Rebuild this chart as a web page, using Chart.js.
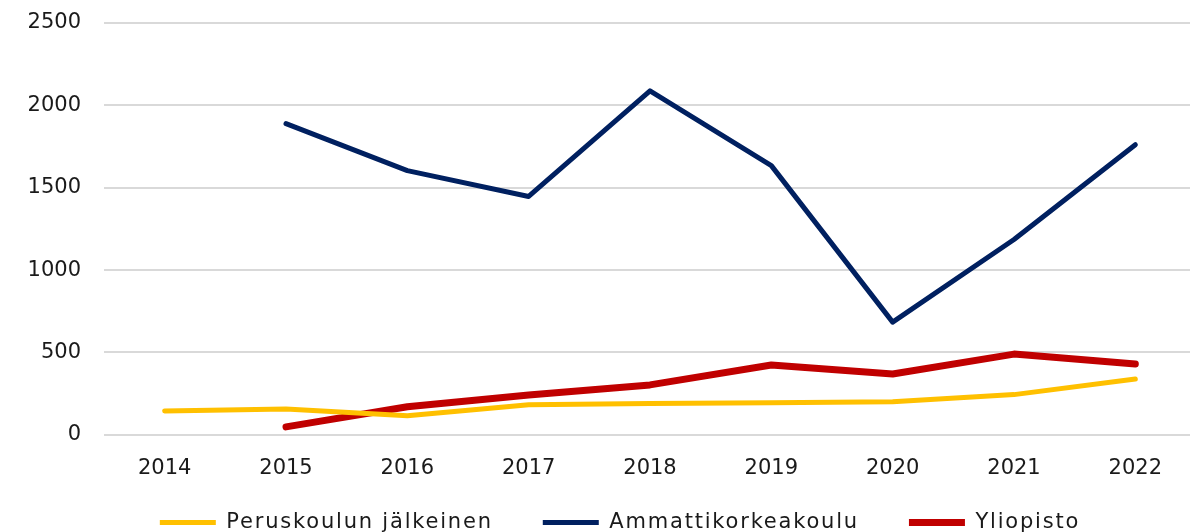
<!DOCTYPE html>
<html>
<head>
<meta charset="utf-8">
<script src="https://cdn.jsdelivr.net/npm/chart.js@4"></script>
<style>
html,body{margin:0;padding:0;background:#fff;overflow:hidden;width:1190px;height:532px;}
#wrap{position:absolute;left:0;top:0;width:1196px;height:583px;}
</style>
</head>
<body>
<div id="wrap"><canvas id="c"></canvas></div>
<script>
const years = ['2014','2015','2016','2017','2018','2019','2020','2021','2022'];
const peruskoulu = [145, 157, 115, 182, 190, 195, 201, 244, 339];
const amk = [null, 1889, 1604, 1447, 2088, 1634, 684, 1186, 1761];
const yliopisto = [null, 48, 170, 242, 303, 424, 369, 490, 430];
const yTicks = [0, 500, 1000, 1500, 2000, 2500];

const FONT = "'DejaVu Sans', sans-serif";
const LEGEND_SHIFT_Y = 40;
const LEGEND_SHIFT_X = 22;
const LEGEND_SPACING = '1.8px';
const legendShift = {
  id: 'legendShift',
  afterInit(chart) {
    const lg = chart.legend;
    if (!lg) return;
    const origDraw = lg.draw.bind(lg);
    const origFit = lg.fit.bind(lg);
    lg.fit = function() {
      const ctx = chart.ctx;
      const prev = ctx.letterSpacing;
      ctx.letterSpacing = LEGEND_SPACING;
      origFit();
      ctx.letterSpacing = prev || '0px';
    };
    lg.draw = function() {
      const ctx = chart.ctx;
      ctx.save();
      ctx.letterSpacing = LEGEND_SPACING;
      ctx.translate(LEGEND_SHIFT_X, -LEGEND_SHIFT_Y);
      origDraw();
      ctx.restore();
    };
  }
};

new Chart(document.getElementById('c'), {
  type: 'line',
  data: {
    labels: years,
    datasets: [
      {label: 'Peruskoulun jälkeinen', data: peruskoulu, borderColor: '#FFC000', backgroundColor: '#FFC000', borderWidth: 5, pointRadius: 0, pointStyle: 'line', borderCapStyle: 'round', borderJoinStyle: 'round', tension: 0},
      {label: 'Ammattikorkeakoulu', data: amk, borderColor: '#002060', backgroundColor: '#002060', borderWidth: 5, pointRadius: 0, pointStyle: 'line', borderCapStyle: 'round', borderJoinStyle: 'round', tension: 0},
      {label: 'Yliopisto', data: yliopisto, borderColor: '#C00000', backgroundColor: '#C00000', borderWidth: 7, pointRadius: 0, pointStyle: 'line', borderCapStyle: 'round', borderJoinStyle: 'round', tension: 0}
    ]
  },
  plugins: [legendShift],
  options: {
    responsive: true,
    maintainAspectRatio: false,
    animation: false,
    layout: {padding: {top: 23, left: 0, right: 0, bottom: 0}},
    plugins: {
      tooltip: {enabled: false},
      legend: {
        position: 'bottom',
        labels: {
          usePointStyle: true,
          pointStyleWidth: 56,
          boxWidth: 46,
          boxHeight: 6,
          padding: 50,
          color: '#1a1a1a',
          font: {family: FONT, size: 21}
        }
      }
    },
    scales: {
      x: {
        offset: true,
        grid: {display: false, drawTicks: false},
        border: {display: false},
        ticks: {color: '#1a1a1a', padding: 21, font: {family: FONT, size: 21}}
      },
      y: {
        min: 0, max: 2500,
        afterBuildTicks: (axis) => { axis.ticks = yTicks.map(v => ({value: v})); },
        afterFit: (axis) => { axis.width = 104; axis.paddingTop = 0; axis.paddingBottom = 0; },
        grid: {color: '#d9d9d9', lineWidth: 2, drawTicks: false},
        border: {display: false},
        ticks: {color: '#1a1a1a', padding: 23, font: {family: FONT, size: 21}, callback: (v) => String(v)}
      }
    }
  }
});
</script>
</body>
</html>
